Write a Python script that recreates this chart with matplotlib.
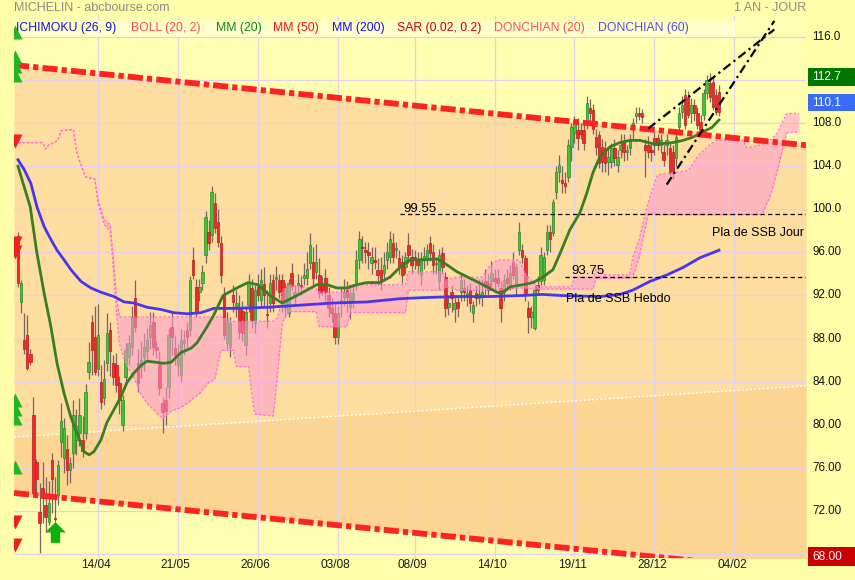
import matplotlib
matplotlib.use("Agg")
import matplotlib.pyplot as plt
import numpy as np
from matplotlib.path import Path
from matplotlib.patches import Rectangle
from matplotlib.transforms import blended_transform_factory

plt.rcParams['font.family'] = ['Liberation Sans', 'DejaVu Sans']

# ---------------- DATA ----------------
opens = [97.5, 91.4, 87.9, 88.3, 86.6, 80.9, 76.5, 71.9, 74.1, 72.5,
         71.0, 76.7, 71.3, 73.5, 78.4, 76.9, 77.7, 75.8, 77.4, 78.6,
         79.2, 78.6, 79.2, 84.9, 89.5, 88.1, 85.2, 84.0, 82.5, 85.7,
         88.8, 85.7, 85.5, 83.9, 80.0, 84.4, 86.3, 87.2, 91.8, 85.7,
         85.4, 86.3, 86.8, 88.1, 89.5, 87.2, 85.7, 82.0, 82.3, 83.5,
         89.1, 87.1, 85.5, 84.6, 87.6, 88.8, 88.8, 95.3, 92.8, 92.3,
         93.2, 95.8, 97.9, 97.6, 100.6, 98.8, 96.9, 92.0, 87.6, 87.2,
         92.0, 91.0, 90.8, 90.6, 87.4, 91.1, 92.7, 89.4, 92.8, 91.6,
         93.1, 90.3, 91.3, 93.4, 93.5, 93.4, 93.4, 90.8, 90.4, 94.1,
         91.9, 93.0, 93.0, 93.6, 93.6, 95.0, 95.1, 94.2, 93.9, 93.0,
         93.6, 92.0, 90.8, 90.4, 88.1, 91.3, 91.9, 92.5, 90.9, 91.6,
         93.2, 95.3, 96.5, 96.2, 96.0, 95.0, 95.3, 94.4, 94.4, 94.1,
         95.3, 95.6, 96.9, 96.2, 95.5, 95.1, 94.6, 96.7, 95.6, 95.6,
         95.3, 93.9, 95.3, 95.3, 96.9, 96.0, 94.9, 93.3, 95.9, 93.7,
         90.9, 92.3, 90.7, 91.4, 92.3, 92.7, 92.0, 92.5, 90.4, 92.2,
         91.8, 92.0, 93.3, 93.2, 93.3, 93.6, 93.6, 92.7, 92.3, 93.6,
         93.0, 95.1, 93.0, 96.2, 96.2, 95.5, 90.8, 90.0, 89.0, 93.0,
         93.3, 93.4, 96.2, 97.9, 97.8, 101.6, 103.5, 102.7, 102.4, 103.0,
         105.8, 107.1, 107.4, 107.4, 107.4, 107.8, 109.4, 109.2, 106.7, 106.9,
         105.8, 105.7, 104.4, 104.4, 105.7, 104.1, 105.5, 106.3, 105.3, 105.7,
         107.5, 108.7, 108.9, 108.9, 106.0, 106.0, 105.5, 106.6, 106.6, 106.0,
         105.3, 106.0, 105.7, 105.3, 104.8, 107.6, 109.0, 110.6, 110.4, 108.9,
         109.7, 108.9, 108.1, 108.8, 110.8, 111.7, 111.8, 110.6, 110.9]
highs = [97.9, 93.4, 90.4, 90.2, 87.0, 82.6, 76.8, 74.6, 76.5, 75.1,
         74.8, 77.4, 75.1, 76.7, 82.0, 80.6, 79.0, 77.0, 82.3, 81.5,
         82.5, 80.8, 83.8, 87.7, 90.2, 91.0, 91.2, 85.5, 86.0, 90.4,
         89.5, 86.5, 86.7, 84.5, 82.8, 87.6, 88.3, 91.0, 93.4, 87.0,
         87.8, 88.5, 89.0, 90.5, 90.5, 87.8, 86.8, 82.6, 83.5, 89.0,
         90.5, 88.2, 87.5, 88.9, 88.8, 89.5, 93.8, 96.5, 93.5, 93.5,
         94.8, 99.8, 99.0, 102.2, 101.5, 100.0, 97.5, 92.8, 90.5, 90.0,
         93.0, 92.5, 92.0, 91.5, 91.0, 94.0, 93.5, 93.0, 94.0, 94.5,
         94.6, 92.5, 94.0, 94.0, 94.7, 94.0, 94.0, 93.2, 93.5, 95.0,
         93.0, 94.0, 93.8, 95.0, 96.0, 97.8, 96.5, 96.8, 95.5, 93.8,
         94.5, 92.8, 91.8, 91.2, 91.0, 92.8, 93.5, 93.3, 92.8, 93.0,
         96.2, 98.0, 97.5, 97.0, 97.0, 96.5, 96.5, 95.5, 95.6, 96.0,
         97.0, 98.0, 97.8, 97.0, 96.2, 95.8, 96.0, 97.8, 96.3, 96.2,
         96.0, 96.0, 96.5, 96.8, 97.5, 96.8, 95.5, 96.3, 96.5, 94.2,
         92.0, 93.0, 92.0, 92.0, 94.0, 93.5, 93.0, 93.2, 91.5, 93.0,
         93.5, 93.5, 94.5, 94.0, 95.2, 94.5, 94.5, 93.3, 94.0, 94.5,
         94.8, 96.0, 95.0, 98.8, 96.8, 95.8, 91.5, 91.0, 93.0, 93.8,
         96.5, 96.0, 98.5, 98.5, 101.0, 104.0, 105.0, 104.0, 103.5, 106.5,
         108.0, 108.7, 108.5, 108.0, 108.0, 110.5, 110.2, 109.8, 107.5, 107.3,
         106.5, 106.3, 105.8, 106.2, 106.5, 105.5, 107.0, 107.0, 106.0, 107.0,
         108.5, 109.5, 109.5, 109.3, 106.5, 106.8, 106.2, 107.2, 107.0, 107.0,
         106.0, 107.0, 106.2, 106.0, 107.5, 109.5, 110.5, 111.2, 111.0, 110.3,
         110.2, 109.5, 108.8, 111.2, 112.5, 112.7, 112.3, 111.2, 111.5]
lows = [92.8, 90.4, 86.6, 85.1, 85.5, 73.5, 73.5, 68.1, 70.9, 70.0,
        70.7, 71.8, 71.0, 72.5, 77.0, 75.5, 74.4, 74.6, 76.0, 77.2,
        78.0, 77.0, 78.7, 84.2, 84.6, 84.6, 84.5, 81.5, 81.8, 85.0,
        84.5, 83.7, 83.0, 81.0, 79.4, 83.8, 85.5, 86.5, 88.6, 83.0,
        84.3, 85.0, 86.0, 87.0, 86.5, 86.2, 82.8, 79.2, 80.0, 82.5,
        86.5, 85.5, 84.5, 84.0, 86.5, 87.0, 88.2, 93.5, 90.0, 91.5,
        92.5, 95.0, 96.2, 97.0, 97.8, 96.5, 93.2, 88.0, 87.0, 86.3,
        90.5, 90.0, 88.0, 87.8, 86.5, 90.5, 89.0, 88.5, 91.5, 90.8,
        91.0, 89.0, 90.5, 90.5, 92.5, 91.8, 90.5, 90.0, 90.0, 92.5,
        91.0, 92.3, 92.0, 93.0, 93.0, 94.5, 93.0, 93.5, 91.8, 92.0,
        91.5, 90.0, 89.5, 87.5, 87.5, 90.0, 91.0, 90.5, 89.8, 90.8,
        92.5, 94.5, 95.0, 95.0, 94.5, 94.0, 94.5, 93.0, 92.5, 93.5,
        94.5, 95.0, 95.0, 95.5, 94.0, 93.2, 94.0, 95.0, 94.0, 94.5,
        94.0, 93.0, 94.5, 94.8, 95.2, 94.0, 94.0, 92.5, 94.0, 90.0,
        90.2, 90.5, 89.5, 90.0, 91.5, 91.5, 91.0, 90.5, 89.5, 91.0,
        91.2, 91.0, 92.0, 92.0, 92.8, 92.5, 92.8, 89.5, 91.5, 92.5,
        92.5, 93.5, 92.0, 95.8, 95.0, 91.5, 88.5, 89.0, 88.8, 92.0,
        93.0, 93.0, 95.8, 96.0, 97.5, 101.0, 102.5, 101.5, 101.5, 102.5,
        104.5, 106.2, 105.5, 106.5, 105.5, 107.5, 108.0, 107.0, 105.0, 103.8,
        103.5, 103.5, 103.2, 103.8, 104.0, 103.5, 104.8, 104.5, 104.6, 105.0,
        106.5, 108.0, 108.3, 108.0, 103.0, 104.8, 104.5, 105.0, 105.5, 105.2,
        104.0, 105.0, 103.2, 102.8, 104.0, 107.0, 108.5, 107.5, 108.5, 108.0,
        108.2, 107.5, 106.8, 108.3, 110.2, 110.0, 109.2, 108.8, 108.7]
closes = [93.2, 93.2, 87.0, 85.3, 85.8, 73.7, 75.0, 70.9, 73.2, 71.4,
          72.7, 75.0, 71.2, 76.3, 80.3, 79.7, 75.8, 76.4, 80.9, 79.9,
          80.9, 77.6, 83.0, 85.8, 86.9, 84.9, 88.3, 82.1, 84.2, 88.5,
          86.8, 84.4, 83.7, 82.3, 82.3, 86.9, 87.6, 90.0, 89.1, 83.9,
          86.0, 87.2, 87.9, 89.3, 87.2, 86.9, 83.4, 81.2, 81.3, 88.3,
          88.1, 86.5, 86.2, 87.9, 87.9, 88.1, 93.4, 93.9, 90.6, 92.8,
          94.2, 99.3, 96.9, 101.6, 98.3, 97.0, 93.9, 88.3, 89.7, 89.4,
          91.4, 91.3, 88.6, 88.5, 90.5, 93.2, 89.7, 92.5, 92.0, 93.4,
          92.0, 90.2, 93.2, 91.3, 93.7, 92.3, 91.4, 92.8, 93.2, 92.9,
          92.3, 93.2, 92.8, 93.9, 94.5, 96.7, 93.6, 95.1, 92.2, 92.5,
          92.3, 90.8, 90.4, 88.1, 90.4, 91.6, 92.3, 91.9, 92.2, 92.2,
          95.3, 97.2, 96.4, 96.0, 95.8, 95.6, 95.1, 93.9, 93.3, 94.8,
          96.0, 97.2, 95.6, 96.4, 94.6, 93.9, 95.6, 95.8, 94.8, 95.3,
          94.8, 95.5, 95.7, 96.2, 95.9, 94.8, 95.0, 95.8, 94.6, 90.8,
          91.3, 91.8, 91.3, 90.8, 93.4, 92.3, 92.2, 91.3, 91.1, 91.8,
          92.1, 92.3, 92.8, 92.5, 94.1, 93.3, 93.2, 90.8, 93.4, 93.2,
          94.1, 93.9, 94.6, 97.9, 95.6, 92.2, 90.0, 90.5, 92.5, 92.5,
          95.8, 95.6, 97.9, 97.2, 100.7, 103.5, 104.1, 102.4, 102.2, 106.0,
          107.6, 108.3, 106.6, 107.0, 106.2, 109.9, 108.9, 107.5, 105.8, 104.3,
          104.4, 104.3, 104.9, 105.7, 104.8, 104.9, 106.0, 105.3, 105.5, 106.3,
          108.0, 108.9, 108.7, 108.6, 105.5, 105.3, 105.3, 106.0, 106.0, 106.4,
          104.6, 106.4, 103.5, 103.4, 106.7, 108.9, 109.7, 107.8, 108.8, 109.7,
          108.9, 107.8, 107.4, 110.8, 112.0, 110.4, 109.5, 109.0, 109.0]

# moving average MM(20) (bar index, value)
mm20_bar = [0, 2, 4, 6, 8.5, 10.7, 12.7, 15, 17.2, 19.2, 21.5, 23.1, 24.7, 27, 28.9,
            31.2, 33.5, 35.4, 37.7, 40, 42, 47.5, 49.8, 53, 56.3, 58.2, 61.5, 63.7,
            66.7, 71.2, 74.8, 78, 82, 85.9, 89.4, 92.7, 97.2, 100.5, 103.7, 107,
            110.2, 113.5, 117.7, 121, 124.2, 127.5, 131.7, 136.3, 138.2, 142.8, 147,
            151.2, 155.8, 157.4, 160, 164.2, 167.5, 170.7, 174, 176.3, 179.5, 182.8,
            185, 187, 189.3, 192.5, 195.8, 199, 202.3, 206.5, 209.8, 213, 216.3,
            219.5, 222.8, 225.7, 228]
mm20_val = [104.0, 102.1, 100.2, 96.2, 92.2, 89.1, 85.7, 82.9, 80.7, 79.2, 77.5, 77.2,
            77.5, 78.6, 80.2, 81.4, 82.6, 83.9, 84.8, 85.5, 85.9, 85.7, 85.8, 86.7,
            87.1, 87.6, 89.1, 90.2, 92.0, 92.7, 93.2, 93.0, 92.0, 91.3, 91.8, 92.3,
            93.0, 93.0, 92.7, 92.7, 93.0, 93.2, 93.2, 93.7, 94.6, 95.3, 95.3, 95.4,
            95.1, 94.2, 93.6, 93.0, 92.3, 92.2, 92.8, 93.0, 93.2, 93.7, 94.4, 95.9,
            98.1, 99.7, 101.5, 103.4, 104.9, 105.8, 106.2, 106.4, 106.4, 106.1, 106.1,
            106.2, 106.4, 106.7, 107.2, 107.6, 108.3]

# long moving average (blue)
mml_bar = [0, 2, 4.2, 6.2, 8.5, 10.7, 12.7, 15, 17.2, 20.5, 23.7, 27, 31.2, 34.5, 37.7,
           42, 46.5, 50.7, 55, 59.5, 63.7, 70, 81, 91.7, 102.4, 113.5, 124.2, 131.7,
           142.8, 153.5, 164.2, 170.7, 176.3, 189.3, 195.8, 200, 205.5, 211, 216.3,
           221.8, 228]
mml_val = [104.6, 103.7, 102.4, 100.2, 98.4, 97.2, 96.2, 95.3, 94.4, 93.3, 92.7, 92.3,
           91.9, 91.4, 91.3, 90.9, 90.7, 90.4, 90.3, 90.4, 90.8, 90.8, 90.9, 91.1,
           91.3, 91.4, 91.7, 91.8, 91.9, 91.9, 92.0, 92.1, 92.0, 91.9, 92.1, 92.5,
           93.3, 93.9, 94.6, 95.5, 96.2]

# Ichimoku cloud (bar index, span 1, span 2)
cloud_bar = [0, 8, 9, 10, 11, 13, 14, 18, 19, 20, 22, 25, 26, 28, 30, 31, 32, 33, 35,
             38, 40, 42, 45, 47, 50, 53, 56, 59, 62, 64, 66, 70, 71, 75, 76, 77, 83,
             84, 85, 86, 88, 97, 98, 107, 108, 126, 127, 138, 139,
             143, 151, 153, 156, 163, 165, 169, 180, 181, 187, 188, 190, 191, 199,
             200, 202, 205, 208, 218, 221, 225, 227, 236, 237, 242, 245, 247, 250, 254]
cloud_a = [106.2, 106.2, 105.6, 106.0, 106.1, 106.4, 107.3, 107.4, 105.5, 104.5,
           103.0, 102.8, 101.0, 99.0, 98.6, 95.5, 92.0, 90.0, 90.0, 90.0, 90.0, 90.0,
           90.0, 90.0, 90.0, 90.0, 90.0, 90.0, 90.0, 90.0, 90.0, 89.6, 89.6, 89.6,
           89.6, 89.6, 89.6, 89.8, 90.5, 92.5, 93.0, 92.6, 92.3, 92.3, 93.0, 93.0,
           94.2, 94.2, 93.4, 93.7, 93.7, 94.6, 95.3, 95.3, 94.0,
           92.8, 92.8, 93.7, 93.7, 94.4, 94.4, 93.9, 93.9, 95.6, 97.2, 100.7, 103.2,
           103.6, 104.9, 106.0, 106.4, 106.4, 105.7, 106.0, 106.5, 107.1, 108.9, 108.9]
cloud_b = [106.2, 106.2, 105.6, 106.0, 106.1, 106.4, 107.3, 107.4, 105.5, 104.5,
           103.0, 102.8, 100.6, 98.6, 98.0, 94.5, 90.5, 87.5, 85.7, 84.2, 82.8, 82.0,
           81.1, 80.6, 81.3, 81.6, 82.2, 82.9, 83.9, 84.2, 86.9, 86.9, 85.4, 85.4,
           83.0, 81.0, 80.8, 83.5, 86.5, 89.5, 90.5, 90.5, 89.1, 89.1, 90.4, 90.4,
           92.5, 92.5, 92.8, 92.5, 92.5, 92.5, 92.5, 92.7, 92.7,
           92.6, 92.6, 92.6, 92.6, 93.6, 93.6, 93.6, 93.6, 93.7, 95.5, 99.6, 99.5,
           99.5, 99.5, 99.5, 99.5, 99.5, 99.5, 99.5, 101.5, 103.6, 107.1, 107.2]

# trend lines: (bar, price) anchors
channel_top = [(-1.3, 113.4), (256.3, 105.95)]
channel_bottom = [(-1.3, 73.66), (256.3, 66.34)]
channel_mid = [(-1.3, 78.86), (256.3, 83.6)]
wedge_top = [(205, 107.5), (246, 116.7)]
wedge_bottom = [(211, 102.3), (246, 117.5)]

# SSB plateaus
plateau_levels = [99.55, 93.75]
plateau_start = [124.2, 177.9]

# signals on left edge
signal_up = [116.46, 114.14, 113.31, 112.47, 82.3, 81.46, 80.62, 76.07]
signal_down = [106.34, 96.87, 96.0, 70.97, 68.83]
buy_arrow_bar = 12
buy_arrow_price = 70.05

tick_bars = [26, 52, 78, 104, 129, 155, 181, 207, 233]
tick_labels = ["14/04", "21/05", "26/06", "03/08", "08/09", "14/10", "19/11", "28/12", "04/02"]
price_levels = [116, 112, 108, 104, 100, 96, 92, 88, 84, 80, 76, 72, 68]

legend_items = ["ICHIMOKU (26, 9)", "BOLL (20, 2)", "MM (20)", "MM (50)", "MM (200)",
                "SAR (0.02, 0.2)", "DONCHIAN (20)", "DONCHIAN (60)"]
legend_colors = ["#1414D2", "#FF4A4A", "#0A8A0A", "#F01010", "#1010F0",
                 "#C80000", "#FF5050", "#5050D8"]
legend_px = [16, 131, 216, 273, 332, 397, 494, 598]

# ---------------- FIGURE ----------------
W, H = 855, 580
fig = plt.figure(figsize=(W / 100, H / 100), dpi=100, facecolor='#FFFFAA')
ax_l, ax_r, ax_t, ax_b = 14, 806, 16, 557.5
ax = fig.add_axes([ax_l / W, 1 - ax_b / H, (ax_r - ax_l) / W, (ax_b - ax_t) / H])
ax.set_facecolor('#FFFFB2')
ax.set_xlim(-1.3, 256.3)
ax.set_ylim(67.67, 117.95)
for s in ax.spines.values():
    s.set_visible(False)
ax.set_xticks(tick_bars)
ax.set_yticks(price_levels)
ax.tick_params(length=0, labelbottom=False, labelleft=False)
ax.set_axisbelow(True)
ax.grid(color='#E4D0EC', lw=0.9)

# channel fills
cx = [p[0] for p in channel_top]
ax.fill_between(cx, [p[1] for p in channel_top], [p[1] for p in channel_bottom],
                color='#FDDDA0', lw=0, zorder=0.2)
ax.fill_between(cx, [p[1] for p in channel_mid], [p[1] for p in channel_bottom],
                color='#FCD592', lw=0, zorder=0.3)
# legend strip
ax.add_patch(Rectangle((0, (ax_b - 37) / (ax_b - ax_t)), (735 - ax_l) / (ax_r - ax_l),
                       (37 - 21) / (ax_b - ax_t), transform=ax.transAxes,
                       fc='#FFFFCC', ec='none', zorder=0.6))

# candles
x = np.arange(len(closes))
o = np.array(opens); h = np.array(highs); l = np.array(lows); c = np.array(closes)
up = c >= o
bb = np.minimum(o, c)
bh = np.maximum(np.abs(c - o), 0.12)
ax.vlines(x, l, h, color='#7C6464', lw=0.9, zorder=3)
ax.bar(x[up], bh[up], bottom=bb[up], width=0.8, color='#3EC436', edgecolor='#2C8A26',
       lw=0.5, zorder=3.5)
ax.bar(x[~up], bh[~up], bottom=bb[~up], width=0.8, color='#EE2A2A', edgecolor='#BE1A1A',
       lw=0.5, zorder=3.5)

# cloud (drawn over candles, translucent)
ax.fill_between(cloud_bar, cloud_a, cloud_b, color='#FF98D1', alpha=0.55, lw=0, zorder=4)
ax.plot(cloud_bar, cloud_a, color='#FF6FD0', lw=0.9, ls=(0, (2, 1.5)), zorder=4.2)
ax.plot(cloud_bar, cloud_b, color='#FF6FD0', lw=0.9, ls=(0, (2, 1.5)), zorder=4.2)

# moving averages
ax.plot(mml_bar, mml_val, color='#4A35EE', lw=2.0, zorder=5)
ax.plot(mm20_bar, mm20_val, color='#3B7D22', lw=2.0, zorder=5.1)

# trend lines
ax.plot(cx, [p[1] for p in channel_mid], color='white', lw=1.0, ls=(0, (1.5, 1.5)), zorder=2)
for ln in (channel_top, channel_bottom):
    ax.plot([p[0] for p in ln], [p[1] for p in ln], color='#FF2222', lw=4.2,
            dashes=(2.6, 0.7, 0.9, 0.7), zorder=6, solid_capstyle='butt')
for ln in (wedge_top, wedge_bottom):
    ax.plot([p[0] for p in ln], [p[1] for p in ln], color='black', lw=1.6,
            dashes=(4, 1.8, 1, 1.8), zorder=6, clip_on=False)

# plateaus
for lev, st in zip(plateau_levels, plateau_start):
    ax.plot([st, 256.3], [lev, lev], color='black', lw=0.9, ls=(0, (3.5, 2.5)), zorder=6)
ax.text(plateau_start[0] + 1, plateau_levels[0] + 0.5, f"{plateau_levels[0]:.2f}",
        fontsize=9.5, va='center', ha='left', zorder=7)
ax.text(plateau_start[1] + 2, plateau_levels[1] + 0.55, f"{plateau_levels[1]:.2f}",
        fontsize=9.5, va='center', ha='left', zorder=7)
ax.text(225.7, 97.8, "Pla de SSB Jour", fontsize=9, va='center', ha='left', zorder=7)
ax.text(178.2, 91.67, "Pla de SSB Hebdo", fontsize=9, va='center', ha='left', zorder=7)

# signals
ax.plot([-1.0] * len(signal_up), signal_up, ls='none', marker='^', ms=10,
        color='#20B820', mec='none', zorder=7)
ax.plot([-1.0] * len(signal_down), signal_down, ls='none', marker='v', ms=10,
        color='#F02020', mec='none', zorder=7)
arrow = Path([(0, 1), (1, 0), (0.45, 0), (0.45, -1), (-0.45, -1), (-0.45, 0), (-1, 0), (0, 1)])
ax.plot([buy_arrow_bar], [buy_arrow_price], ls='none', marker=arrow, ms=15,
        color='#10B010', mec='none', zorder=7)

# legend texts
for t, col, px in zip(legend_items, legend_colors, legend_px):
    fig.text(px / W, 1 - 28.5 / H, t, color=col, fontsize=8.8, va='center', ha='left')

# titles
fig.text(14 / W, 1 - 8 / H, "MICHELIN - abcbourse.com", color='#8A8A8A', fontsize=9,
         va='center', ha='left')
fig.text(806 / W, 1 - 8 / H, "1 AN - JOUR", color='#8A8A8A', fontsize=9,
         va='center', ha='right')

# x labels
xt = blended_transform_factory(ax.transData, ax.transAxes)
for tb, lab in zip(tick_bars, tick_labels):
    ax.text(tb - 0.7, -0.0145, lab, transform=xt, fontsize=8.6, ha='center', va='center',
            color='#1A1A1A')

# y labels
yt = blended_transform_factory(ax.transAxes, ax.transData)
for v in price_levels:
    if v in (112, 68):
        continue
    lab = f"{v:.1f}" if v >= 100 else f"{v:.2f}"
    ax.text(1.0076, v, lab, transform=yt, fontsize=8.4, ha='left', va='center',
            color='#111111')

# value boxes (last high / last close / low)
boxes = [("112.7", '#007800', 68, 86), ("110.1", '#3A6BF5', 94, 111), ("68.00", '#C80000', 547, 566)]
for txt, col, y0, y1 in boxes:
    fig.patches.append(Rectangle((808 / W, 1 - y1 / H), (W - 808) / W, (y1 - y0) / H,
                                 transform=fig.transFigure, fc=col, ec='none'))
    fig.text(812 / W, 1 - (y0 + y1) / 2 / H, txt, color='white', fontsize=8.6,
             va='center', ha='left')

fig.savefig('out.png', dpi=100, facecolor=fig.get_facecolor())
